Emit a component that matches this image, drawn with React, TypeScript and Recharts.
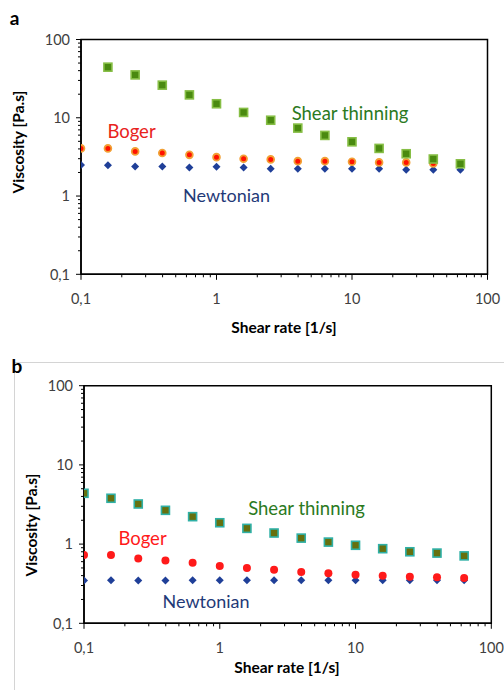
import React from "react";
import { ScatterChart, Scatter, XAxis, YAxis, ReferenceArea } from "recharts";

// Shear rates [1/s]
const shearRates = [0.1, 0.158, 0.251, 0.398, 0.631, 1, 1.585, 2.512, 3.981, 6.31, 10, 15.85, 25.12, 39.81, 63.1];

// Panel a viscosities [Pa.s]
const aShearThinning = [null, 44.3, 35.3, 26.1, 19.6, 15.1, 11.7, 9.3, 7.38, 5.95, 4.93, 4.06, 3.47, 2.97, 2.58];
const aBoger = [4.06, 4.06, 3.72, 3.54, 3.36, 3.14, 2.99, 2.94, 2.79, 2.79, 2.74, 2.69, 2.69, 2.61, 2.61];
const aNewtonian = [2.49, 2.47, 2.39, 2.39, 2.32, 2.36, 2.32, 2.23, 2.23, 2.23, 2.23, 2.23, 2.16, 2.16, 2.16];

// Panel b viscosities [Pa.s]
const bShearThinning = [4.38, 3.79, 3.21, 2.67, 2.22, 1.86, 1.58, 1.38, 1.19, 1.06, 0.966, 0.875, 0.8, 0.77, 0.71];
const bBoger = [0.73, 0.73, 0.66, 0.62, 0.58, 0.53, 0.5, 0.475, 0.445, 0.428, 0.411, 0.399, 0.388, 0.381, 0.373];
const bNewtonian = [0.346, 0.35, 0.346, 0.346, 0.35, 0.35, 0.35, 0.35, 0.35, 0.35, 0.35, 0.35, 0.35, 0.35, 0.35];

// Axis ticks
const majorTicks = [0.1, 1, 10, 100];
const minorTicks = [0.2, 0.3, 0.4, 0.5, 0.6, 0.7, 0.8, 0.9, 2, 3, 4, 5, 6, 7, 8, 9, 20, 30, 40, 50, 60, 70, 80, 90];
const allTicks = [...majorTicks, ...minorTicks].sort((a, b) => a - b);

const FONT = "Lato, 'Open Sans', sans-serif";

const toPoints = (ys: (number | null)[]) =>
  shearRates
    .map((x, i) => ({ x, y: ys[i] }))
    .filter((p) => p.y !== null);

const fmt = (v: number) => String(v).replace(".", ",");

const YTick = (props: any) => {
  const { x, y, payload } = props;
  const v = payload.value;
  const major = majorTicks.includes(v);
  return (
    <g>
      <line x1={x - (major ? 5 : 3)} x2={x} y1={y} y2={y} stroke="#000" strokeWidth={1} />
      {major && (
        <text x={x - 11} y={y} dy="0.36em" textAnchor="end" fontSize={14.5} fill="#404040" fontFamily={FONT}>
          {fmt(v)}
        </text>
      )}
    </g>
  );
};

const XTick = (props: any) => {
  const { x, y, payload } = props;
  const v = payload.value;
  const major = majorTicks.includes(v);
  return (
    <g>
      <line x1={x} x2={x} y1={y} y2={y + (major ? 5.5 : 3)} stroke="#000" strokeWidth={1} />
      {major && (
        <text x={x} y={y + 24} dy="0.36em" textAnchor="middle" fontSize={14.5} fill="#404040" fontFamily={FONT}>
          {fmt(v)}
        </text>
      )}
    </g>
  );
};

const SquareA = (p: any) => (
  <rect x={p.cx - 4} y={p.cy - 4} width={8} height={8} fill="#4a8a10" stroke="#86be45" strokeWidth={1.6} />
);
const CircleA = (p: any) => (
  <circle cx={p.cx} cy={p.cy} r={3.4} fill="#ff1200" stroke="#f2a035" strokeWidth={1.8} />
);
const Diamond = (p: any) => (
  <path d={`M${p.cx},${p.cy - 4}L${p.cx + 4},${p.cy}L${p.cx},${p.cy + 4}L${p.cx - 4},${p.cy}Z`} fill="#1f3f98" />
);
const SquareB = (p: any) => (
  <rect x={p.cx - 4} y={p.cy - 4} width={8} height={8} fill="#66700e" stroke="#2fb0a6" strokeWidth={1.6} />
);
const CircleB = (p: any) => <circle cx={p.cx} cy={p.cy} r={4} fill="#ff1a1a" />;

type PanelProps = {
  top: number;
  plotLeft: number;
  plotRight: number;
  plotTop: number;
  plotBottom: number;
  st: (number | null)[];
  boger: (number | null)[];
  newt: (number | null)[];
  StShape: any;
  BgShape: any;
};

const Panel = ({ top, plotLeft, plotRight, plotTop, plotBottom, st, boger, newt, StShape, BgShape }: PanelProps) => {
  const H = 345;
  return (
    <div style={{ position: "absolute", left: 0, top }}>
      <ScatterChart
        width={504}
        height={H}
        margin={{ left: 0, right: 504 - plotRight, top: plotTop, bottom: 0 }}
      >
        <XAxis
          type="number"
          dataKey="x"
          scale="log"
          domain={[0.1, 100]}
          ticks={allTicks}
          interval={0}
          tickSize={0}
          tickMargin={0}
          tickLine={false}
          tick={<XTick />}
          axisLine={{ stroke: "#000", strokeWidth: 1.5 }}
          height={H - plotBottom}
          allowDataOverflow
        />
        <YAxis
          type="number"
          dataKey="y"
          scale="log"
          domain={[0.1, 100]}
          ticks={allTicks}
          interval={0}
          tickSize={0}
          tickMargin={0}
          tickLine={false}
          tick={<YTick />}
          axisLine={{ stroke: "#000", strokeWidth: 1.5 }}
          width={plotLeft}
          allowDataOverflow
        />
        <ReferenceArea x1={0.1} x2={100} y1={0.1} y2={100} fill="none" stroke="#000" strokeWidth={1.5} ifOverflow="visible" />
        <Scatter data={toPoints(newt)} shape={<Diamond />} isAnimationActive={false} />
        <Scatter data={toPoints(boger)} shape={<BgShape />} isAnimationActive={false} />
        <Scatter data={toPoints(st)} shape={<StShape />} isAnimationActive={false} />
      </ScatterChart>
    </div>
  );
};

const Txt = ({ x, y, children, color = "#000", size = 16, bold = false, rotate = false }: any) => (
  <div
    style={{
      position: "absolute",
      left: x,
      top: y,
      transform: `translate(-50%, -50%)${rotate ? " rotate(-90deg)" : ""}`,
      whiteSpace: "nowrap",
      fontFamily: FONT,
      fontSize: size,
      fontWeight: bold ? 700 : 400,
      color,
      lineHeight: 1,
    }}
  >
    {children}
  </div>
);

export default function App() {
  return (
    <div style={{ position: "absolute", left: 0, top: 0, width: 504, height: 690, background: "#fff", overflow: "hidden" }}>
      <div
        style={{
          position: "absolute",
          left: 14,
          top: 362,
          width: 500,
          height: 340,
          borderTop: "1px solid #d4d4d4",
          borderLeft: "1px solid #d4d4d4",
        }}
      />
      <Panel
        top={0}
        plotLeft={81}
        plotRight={487.5}
        plotTop={39.5}
        plotBottom={274.3}
        st={aShearThinning}
        boger={aBoger}
        newt={aNewtonian}
        StShape={SquareA}
        BgShape={CircleA}
      />
      <Panel
        top={345}
        plotLeft={84}
        plotRight={491.3}
        plotTop={40.7}
        plotBottom={278.3}
        st={bShearThinning}
        boger={bBoger}
        newt={bNewtonian}
        StShape={SquareB}
        BgShape={CircleB}
      />
      <Txt x={14.5} y={17} size={19} bold>a</Txt>
      <Txt x={17} y={364.5} size={19} bold>b</Txt>
      <Txt x={18.5} y={142} size={15.5} bold rotate>Viscosity [Pa.s]</Txt>
      <Txt x={32} y={525} size={15.5} bold rotate>Viscosity [Pa.s]</Txt>
      <Txt x={284} y={328} size={15.5} bold>Shear rate [1/s]</Txt>
      <Txt x={287} y={668} size={15.5} bold>Shear rate [1/s]</Txt>
      <Txt x={350} y={113} size={18.5} color="#2b7a1e">Shear thinning</Txt>
      <Txt x={131.5} y={131} size={18.5} color="#e8231c">Boger</Txt>
      <Txt x={226.5} y={195} size={18} color="#1f3a78">Newtonian</Txt>
      <Txt x={306.5} y={508} size={18.5} color="#2b7a1e">Shear thinning</Txt>
      <Txt x={142.5} y={538} size={18.5} color="#ff1a1a">Boger</Txt>
      <Txt x={206} y={601} size={18} color="#1f3a78">Newtonian</Txt>
    </div>
  );
}
